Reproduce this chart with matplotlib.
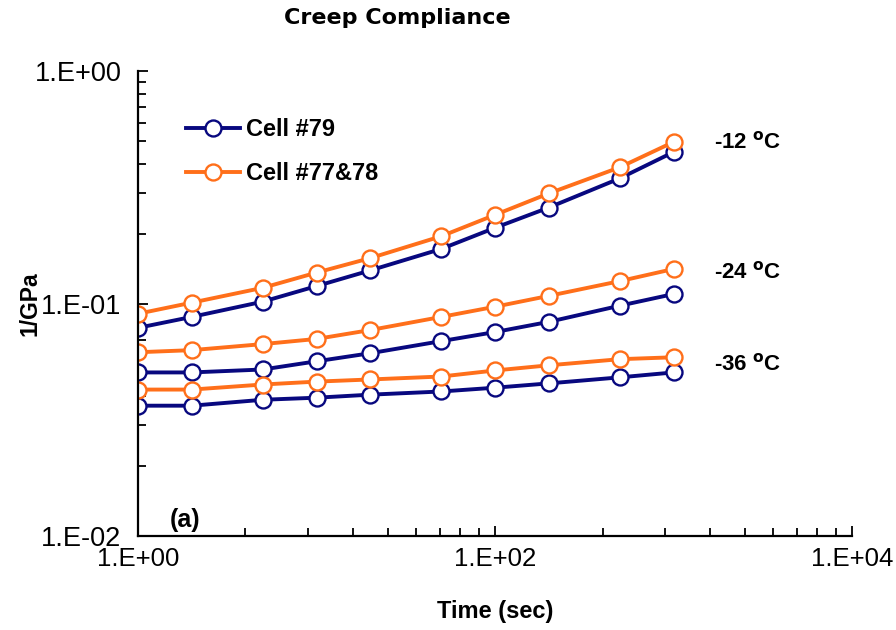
import numpy as np
import matplotlib
matplotlib.use("Agg")
import matplotlib.pyplot as plt
from matplotlib.ticker import FixedLocator, FixedFormatter, LogLocator, NullFormatter

plt.rcParams["font.family"] = ["Liberation Sans", "DejaVu Sans"]
plt.rcParams["mathtext.default"] = "bf"

# time (sec)
time_s = [1, 2, 5, 10, 20, 50, 100, 200, 500, 1000]

# creep compliance (1/GPa)
cell79_m12 = [0.0787, 0.0877, 0.102, 0.119, 0.139, 0.172, 0.212, 0.259, 0.346, 0.449]
cell7778_m12 = [0.0905, 0.101, 0.117, 0.136, 0.157, 0.195, 0.241, 0.298, 0.386, 0.496]
cell79_m24 = [0.0506, 0.0506, 0.0521, 0.0565, 0.0612, 0.069, 0.0755, 0.0835, 0.098, 0.110]
cell7778_m24 = [0.0618, 0.0631, 0.067, 0.0705, 0.077, 0.0877, 0.097, 0.108, 0.125, 0.141]
cell79_m36 = [0.0364, 0.0364, 0.0386, 0.0394, 0.0406, 0.0419, 0.0435, 0.0454, 0.0482, 0.0506]
cell7778_m36 = [0.0427, 0.0427, 0.0449, 0.0462, 0.0472, 0.0486, 0.0516, 0.0543, 0.0577, 0.0588]

temp_labels = ["-12 $^{o}$C", "-24 $^{o}$C", "-36 $^{o}$C"]
x_ticks = [1, 100, 10000]
x_tick_labels = ["1.E+00", "1.E+02", "1.E+04"]
y_ticks = [0.01, 0.1, 1.0]
y_tick_labels = ["1.E-02", "1.E-01", "1.E+00"]

navy = "#08087F"
orange = "#FF6F1A"

fig = plt.figure(figsize=(8.96, 6.3), dpi=100)
ax = fig.add_axes([0.154, 0.149, 0.797, 0.738])

marker_kw = dict(marker="o", markersize=11.5, markerfacecolor="white",
                 markeredgewidth=1.7, linewidth=2.8)

series = [
    (cell79_m12, navy, "Cell #79"),
    (cell7778_m12, orange, "Cell #77&78"),
    (cell79_m24, navy, None),
    (cell7778_m24, orange, None),
    (cell79_m36, navy, None),
    (cell7778_m36, orange, None),
]
for vals, col, lab in series:
    ax.plot(time_s, vals, color=col, markeredgecolor=col, label=lab, **marker_kw)

ax.set_xscale("log")
ax.set_yscale("log")
ax.set_xlim(1, 10000)
ax.set_ylim(0.01, 1.0)

ax.xaxis.set_major_locator(FixedLocator(x_ticks))
ax.xaxis.set_major_formatter(FixedFormatter(x_tick_labels))
# excel-style minor ticks on a base-100 axis
x_minor = [m * k ** 2 for m in [1, 100] for k in range(2, 10)]
ax.xaxis.set_minor_locator(FixedLocator(x_minor))
ax.xaxis.set_minor_formatter(NullFormatter())

ax.yaxis.set_major_locator(FixedLocator(y_ticks))
ax.yaxis.set_major_formatter(FixedFormatter(y_tick_labels))
ax.yaxis.set_minor_locator(LogLocator(base=10, subs=np.arange(2, 10)))
ax.yaxis.set_minor_formatter(NullFormatter())

for s in ["top", "right"]:
    ax.spines[s].set_visible(False)
for s in ["left", "bottom"]:
    ax.spines[s].set_linewidth(1.6)

ax.tick_params(which="both", direction="in", width=1.3)
ax.tick_params(which="major", length=7)
ax.tick_params(which="minor", length=6)
ax.tick_params(axis="x", pad=8, labelsize=18.5)
ax.tick_params(axis="y", pad=12, labelsize=19.5)

ax.set_xlabel("Time (sec)", fontsize=17, fontweight="bold", labelpad=21)
ax.set_ylabel("1/GPa", fontsize=16.5, fontweight="bold", labelpad=-5)
fig.text(0.443, 0.971, "Creep Compliance", ha="center", va="center",
         fontsize=16, fontweight="bold", family="DejaVu Sans")

leg = ax.legend(loc="upper left", bbox_to_anchor=(0.037, 0.945), frameon=False,
                handlelength=2.3, handletextpad=0.25, labelspacing=0.9,
                prop={"weight": "bold", "size": 17})

for lab, yy in zip(temp_labels, [0.847, 0.568, 0.37]):
    ax.text(0.807, yy, lab, transform=ax.transAxes, fontsize=16,
            fontweight="bold", va="center", ha="left")

ax.text(0.045, 0.034, "(a)", transform=ax.transAxes, fontsize=18,
        fontweight="bold", va="center", ha="left")

fig.savefig("out.png", dpi=100)
